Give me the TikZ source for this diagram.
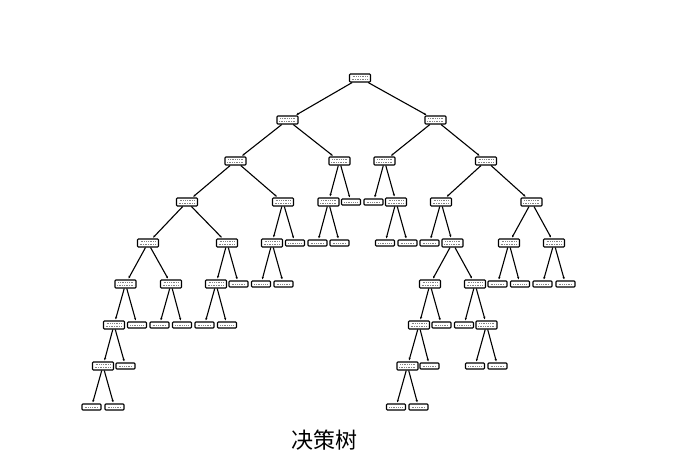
\documentclass[tikz,border=0pt]{standalone}
\usepackage{fontspec}
\newfontfamily\cjk{Noto Sans CJK SC}
\usetikzlibrary{arrows.meta}
\tikzset{
  inode/.style={draw=black, line width=1.1pt, rounded corners=0.8pt, minimum width=21pt, minimum height=8pt, inner sep=0pt, fill=white,
    path picture={
      \draw[gray, line width=0.8pt, densely dotted]
        ([xshift=3pt,yshift=-2.6pt]path picture bounding box.north west) -- ([xshift=-3pt,yshift=-2.6pt]path picture bounding box.north east);
      \draw[gray, line width=0.7pt, densely dotted]
        ([xshift=2pt,yshift=2.4pt]path picture bounding box.south west) -- ([xshift=-2pt,yshift=2.4pt]path picture bounding box.south east);
    }},
  leaf/.style={draw=black, line width=1.1pt, rounded corners=0.8pt, minimum width=19pt, minimum height=6pt, inner sep=0pt, fill=white,
    path picture={
      \draw[gray, line width=0.8pt, densely dotted]
        ([xshift=2.5pt]path picture bounding box.west) -- ([xshift=-2.5pt]path picture bounding box.east);
    }},
  edge/.style={line width=1.1pt, -{Stealth[length=2.4pt,width=2.2pt]}, shorten >=1.2pt}
}
\begin{document}
\begin{tikzpicture}[x=1pt,y=-1pt]
\useasboundingbox (0,0) rectangle (689,468);
% level 0
\node[inode] (n0) at (360,78) {};
% level 1
\node[inode] (n1) at (287.5,120) {};
\node[inode] (n2) at (435.5,120) {};
% level 2
\node[inode] (n11) at (235.5,161) {};
\node[inode] (n12) at (339.5,161) {};
\node[inode] (n21) at (384.5,161) {};
\node[inode] (n22) at (486,161) {};
% level 3
\node[inode] (a) at (187,202) {};
\node[inode] (b) at (283,202) {};
\node[inode] (c) at (328.5,202) {};
\node[leaf] (d) at (351,202) {};
\node[leaf] (e) at (373.5,202) {};
\node[inode] (f) at (396,202) {};
\node[inode] (g) at (441,202) {};
\node[inode] (h) at (531.5,202) {};
% level 4
\node[inode] (a1) at (148,243) {};
\node[inode] (a2) at (227,243) {};
\node[inode] (b1) at (272,243) {};
\node[leaf] (b2) at (295,243) {};
\node[leaf] (c1) at (317.5,243) {};
\node[leaf] (c2) at (339.5,243) {};
\node[leaf] (f1) at (385,243) {};
\node[leaf] (f2) at (407.5,243) {};
\node[leaf] (g1) at (429.5,243) {};
\node[inode] (g2) at (452.5,243) {};
\node[inode] (h1) at (509,243) {};
\node[inode] (h2) at (554,243) {};
% level 5
\node[inode] (a11) at (125.5,284) {};
\node[inode] (a12) at (171,284) {};
\node[inode] (a21) at (216,284) {};
\node[leaf] (a22) at (238.5,284) {};
\node[leaf] (b11) at (261,284) {};
\node[leaf] (b12) at (283.5,284) {};
\node[inode] (g21) at (430,284) {};
\node[inode] (g22) at (475,284) {};
\node[leaf] (h11) at (497.5,284) {};
\node[leaf] (h12) at (520,284) {};
\node[leaf] (h21) at (542.5,284) {};
\node[leaf] (h22) at (565.5,284) {};
% level 6
\node[inode] (a111) at (114,325) {};
\node[leaf] (a112) at (137,325) {};
\node[leaf] (a121) at (159.5,325) {};
\node[leaf] (a122) at (182,325) {};
\node[leaf] (a211) at (204.5,325) {};
\node[leaf] (a212) at (227,325) {};
\node[inode] (g211) at (419,325) {};
\node[leaf] (g212) at (441.5,325) {};
\node[leaf] (g221) at (464,325) {};
\node[inode] (g222) at (486.5,325) {};
% level 7
\node[inode] (a1111) at (103,366) {};
\node[leaf] (a1112) at (125.5,366) {};
\node[inode] (g2111) at (407.5,366) {};
\node[leaf] (g2112) at (429.5,366) {};
\node[leaf] (g2221) at (475,366) {};
\node[leaf] (g2222) at (497.5,366) {};
% level 8
\node[leaf] (a11111) at (91.5,407) {};
\node[leaf] (a11112) at (114.5,407) {};
\node[leaf] (g21111) at (396,407) {};
\node[leaf] (g21112) at (418.5,407) {};
% edges
\foreach \p/\c in {n0/n1,n0/n2,n1/n11,n1/n12,n2/n21,n2/n22,
  n11/a,n11/b,n12/c,n12/d,n21/e,n21/f,n22/g,n22/h,
  a/a1,a/a2,b/b1,b/b2,c/c1,c/c2,f/f1,f/f2,g/g1,g/g2,h/h1,h/h2,
  a1/a11,a1/a12,a2/a21,a2/a22,b1/b11,b1/b12,g2/g21,g2/g22,h1/h11,h1/h12,h2/h21,h2/h22,
  a11/a111,a11/a112,a12/a121,a12/a122,a21/a211,a21/a212,g21/g211,g21/g212,g22/g221,g22/g222,
  a111/a1111,a111/a1112,g211/g2111,g211/g2112,g222/g2221,g222/g2222,
  a1111/a11111,a1111/a11112,g2111/g21111,g2111/g21112}
  \draw[edge] (\p) -- (\c);
% caption
\node[font=\cjk\fontsize{22}{26}\selectfont, inner sep=0pt] (cap) at (324,440) {决策树};
\end{tikzpicture}
\end{document}
